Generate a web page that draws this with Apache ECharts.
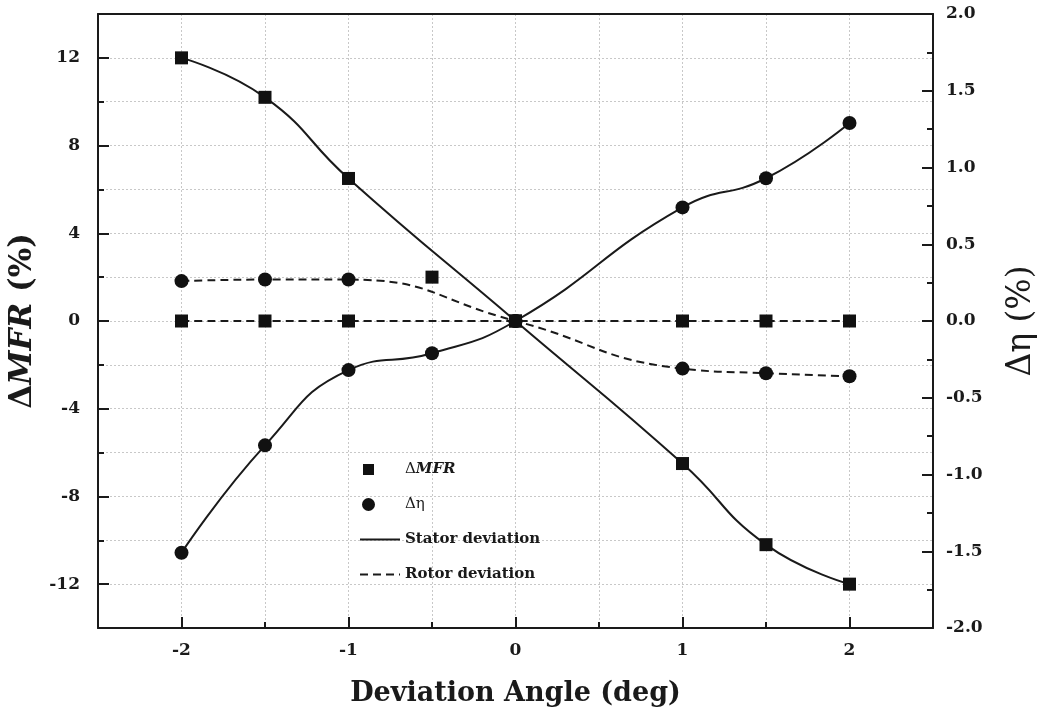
<!DOCTYPE html>
<html>
<head>
<meta charset="utf-8">
<script src="https://cdn.jsdelivr.net/npm/echarts@6/dist/echarts.min.js"></script>
<style>
  html, body { margin: 0; padding: 0; background: #fff; }
  #myEchart { width: 1043px; height: 722px; }
</style>
</head>
<body>
<div id="myEchart"></div>
<script>
// stator deviation points (square = dMFR, circle = d eta)
const statorAngles = [-2, -1.5, -1, -0.5, 0, 1, 1.5, 2];
const statorMfr = [12, 10.2, 6.5, 2.0, 0, -6.5, -10.2, -12];
const statorEta = [-1.51, -0.81, -0.32, -0.21, 0, 0.74, 0.93, 1.29];
// rotor deviation points
const rotorAngles = [-2, -1.5, -1, 0, 1, 1.5, 2];
const rotorMfr = [0, 0, 0, 0, 0, 0, 0];
const rotorEta = [0.26, 0.27, 0.27, 0, -0.31, -0.34, -0.36];
// tick labels
const xLabels = [-2, -1, 0, 1, 2];
const leftLabels = [-12, -8, -4, 0, 4, 8, 12];

const font = 'DejaVu Serif';
const ink = '#1a1a1a';
const pairs = (xs, ys) => xs.map((x, i) => [x, ys[i]]);
// the fitted MFR stator curve in the source skips the -0.5 point
const statorMfrCurve = pairs(statorAngles, statorMfr).filter(p => p[0] !== -0.5);

const myChart = echarts.init(document.getElementById('myEchart'));

const axisLine = { show: true, onZero: false, lineStyle: { color: ink, width: 2 } };
const noLine = { show: false, onZero: false };
const gridLine = { show: true, lineStyle: { color: '#c8c8c8', type: [2, 2], width: 1 } };
const label = { color: ink, fontFamily: font, fontWeight: 'bold', fontSize: 17 };
const hiddenIcon = { color: 'rgba(0,0,0,0)', opacity: 0, borderWidth: 0 };
// legend marks sit at the left of a 40px wide icon box
const bounds = ' M39.99,0H40V0.01H39.99Z M0,13.99H0.01V14H0Z';

const option = {
  animation: false,
  backgroundColor: '#fff',
  grid: { left: 98, right: 110, top: 14, bottom: 94, outerBoundsMode: 'none' },
  legend: {
    orient: 'vertical', left: 354, top: 457, itemGap: 20, itemWidth: 40, itemHeight: 14,
    data: [
      { name: 'ΔMFR', icon: 'path://M3,1.5H14V12.5H3Z' + bounds },
      { name: 'Δη', icon: 'path://M2,7A6.5,6.5 0 1 0 15,7A6.5,6.5 0 1 0 2,7Z' + bounds },
      { name: 'Stator deviation', itemStyle: hiddenIcon },
      { name: 'Rotor deviation', itemStyle: hiddenIcon }
    ],
    formatter: function (n) {
      if (n === 'ΔMFR') return '{d|Δ}{i|MFR}';
      if (n === 'Δη') return '{d|Δη}';
      return '{b|' + n + '}';
    },
    textStyle: {
      rich: {
        d: { fontFamily: font, fontSize: 15, color: ink },
        i: { fontFamily: font, fontSize: 15, fontStyle: 'italic', fontWeight: 'bold', color: ink },
        b: { fontFamily: font, fontSize: 15, fontWeight: 'bold', color: ink }
      }
    }
  },
  xAxis: [
    {
      type: 'value', min: -2.5, max: 2.5, position: 'bottom',
      name: 'Deviation Angle (deg)', nameLocation: 'middle', nameGap: 52,
      nameTextStyle: { fontFamily: font, fontWeight: 'bold', fontSize: 27, color: ink },
      axisLine: axisLine,
      axisTick: { show: true, inside: true, length: 11, customValues: xLabels, lineStyle: { color: ink, width: 2 } },
      axisLabel: Object.assign({}, label, { margin: 14, customValues: xLabels, formatter: v => String(v) }),
      splitLine: { show: false }
    },
    {
      type: 'value', min: -2.5, max: 2.5, interval: 0.5, position: 'bottom',
      axisLine: noLine,
      axisTick: { inside: true, length: 6, lineStyle: { color: ink, width: 2 } },
      axisLabel: { show: false }, splitLine: gridLine
    },
    {
      type: 'value', min: -2.5, max: 2.5, position: 'top',
      axisLine: axisLine, axisTick: { show: false }, axisLabel: { show: false }, splitLine: { show: false }
    }
  ],
  yAxis: [
    {
      type: 'value', min: -14, max: 14, position: 'left',
      name: '{d|Δ}{i|MFR}{d| (%)}', nameLocation: 'middle', nameGap: 44,
      nameTextStyle: {
        rich: {
          d: { fontFamily: font, fontSize: 31, fontWeight: 'bold', color: ink },
          i: { fontFamily: font, fontSize: 31, fontWeight: 'bold', fontStyle: 'italic', color: ink }
        }
      },
      axisLine: axisLine,
      axisTick: { show: true, inside: true, length: 11, customValues: leftLabels, lineStyle: { color: ink, width: 2 } },
      axisLabel: Object.assign({}, label, { margin: 18, customValues: leftLabels, formatter: v => String(v) }),
      splitLine: { show: false }
    },
    {
      type: 'value', min: -2, max: 2, interval: 0.5, position: 'right',
      name: 'Δη (%)', nameLocation: 'middle', nameGap: 72, nameRotate: 90,
      nameTextStyle: { fontFamily: font, fontSize: 33, color: ink },
      axisLine: axisLine,
      axisTick: { inside: true, length: 11, lineStyle: { color: ink, width: 2 } },
      minorTick: { show: true, splitNumber: 2, length: 6, lineStyle: { color: ink, width: 2 } },
      axisLabel: Object.assign({}, label, { margin: 13, formatter: v => v.toFixed(1) }),
      splitLine: { show: false }
    },
    {
      type: 'value', min: -14, max: 14, interval: 2, position: 'left',
      axisLine: noLine,
      axisTick: { inside: true, length: 6, lineStyle: { color: ink, width: 2 } },
      axisLabel: { show: false }, splitLine: gridLine
    }
  ],
  series: [
    {
      name: 'Stator deviation', type: 'line', yAxisIndex: 0, data: statorMfrCurve,
      smooth: 0.5, symbol: 'none', lineStyle: { color: ink, width: 2 }, itemStyle: { color: ink }, z: 3
    },
    {
      name: 'Stator deviation', type: 'line', yAxisIndex: 1, data: pairs(statorAngles, statorEta),
      smooth: 0.5, symbol: 'none', lineStyle: { color: ink, width: 2 }, itemStyle: { color: ink }, z: 3
    },
    {
      name: 'Rotor deviation', type: 'line', yAxisIndex: 0, data: pairs(rotorAngles, rotorMfr),
      smooth: 0.5, symbol: 'none', lineStyle: { color: ink, width: 2, type: [8, 5] }, itemStyle: { color: ink }, z: 3
    },
    {
      name: 'Rotor deviation', type: 'line', yAxisIndex: 1, data: pairs(rotorAngles, rotorEta),
      smooth: 0.5, symbol: 'none', lineStyle: { color: ink, width: 2, type: [8, 5] }, itemStyle: { color: ink }, z: 3
    },
    {
      name: 'ΔMFR', type: 'scatter', yAxisIndex: 0, symbol: 'rect', symbolSize: 13,
      data: pairs(statorAngles, statorMfr).concat(pairs(rotorAngles, rotorMfr)),
      itemStyle: { color: '#111', opacity: 1 }, z: 5
    },
    {
      name: 'Δη', type: 'scatter', yAxisIndex: 1, symbol: 'circle', symbolSize: 14,
      data: pairs(statorAngles, statorEta).concat(pairs(rotorAngles, rotorEta)),
      itemStyle: { color: '#111', opacity: 1 }, z: 5
    }
  ]
};

myChart.setOption(option);
</script>
</body>
</html>
